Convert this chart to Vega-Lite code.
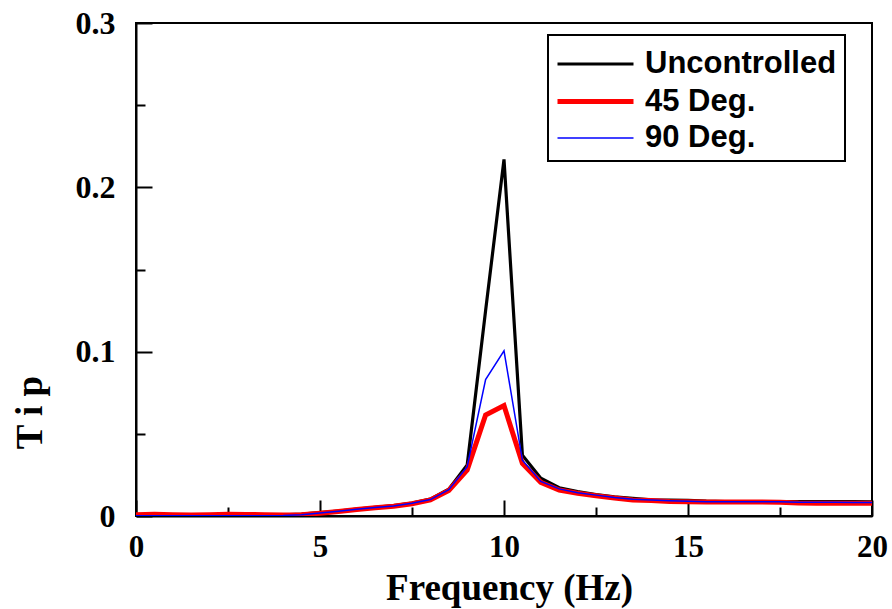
{
  "$schema": "https://vega.github.io/schema/vega-lite/v6.json",
  "width": 736,
  "height": 493,
  "autosize": {"type": "none"},
  "padding": {"left": 136, "top": 23, "right": 20, "bottom": 93},
  "background": "white",
  "config": {
    "view": {"stroke": "black", "strokeWidth": 2},
    "axis": {
      "domainColor": "black", "domainWidth": 2,
      "tickColor": "black", "tickWidth": 2,
      "grid": false,
      "labelFont": "Liberation Serif", "labelFontWeight": "bold", "labelFontSize": 31, "labelColor": "black",
      "titleFont": "Liberation Serif", "titleFontWeight": "bold", "titleFontSize": 37, "titleColor": "black"
    },
    "legend": {"strokeColor": "black", "fillColor": "white", "strokeWidth": 2}
  },
  "data": {"values": [
    {"f":0,"v":0.0005,"s":"Uncontrolled"},{"f":0.5,"v":0.0005,"s":"Uncontrolled"},{"f":1,"v":0.0004,"s":"Uncontrolled"},{"f":1.5,"v":0.0004,"s":"Uncontrolled"},{"f":2,"v":0.0005,"s":"Uncontrolled"},{"f":2.5,"v":0.0005,"s":"Uncontrolled"},{"f":3,"v":0.0005,"s":"Uncontrolled"},{"f":3.5,"v":0.0006,"s":"Uncontrolled"},{"f":4,"v":0.0007,"s":"Uncontrolled"},{"f":4.5,"v":0.0012,"s":"Uncontrolled"},{"f":5,"v":0.002,"s":"Uncontrolled"},{"f":5.5,"v":0.003,"s":"Uncontrolled"},{"f":6,"v":0.0042,"s":"Uncontrolled"},{"f":6.5,"v":0.0052,"s":"Uncontrolled"},{"f":7,"v":0.0063,"s":"Uncontrolled"},{"f":7.5,"v":0.0078,"s":"Uncontrolled"},{"f":8,"v":0.0103,"s":"Uncontrolled"},{"f":8.5,"v":0.0163,"s":"Uncontrolled"},{"f":9,"v":0.031,"s":"Uncontrolled"},{"f":9.5,"v":0.125,"s":"Uncontrolled"},{"f":10,"v":0.217,"s":"Uncontrolled"},{"f":10.5,"v":0.037,"s":"Uncontrolled"},{"f":11,"v":0.023,"s":"Uncontrolled"},{"f":11.5,"v":0.0172,"s":"Uncontrolled"},{"f":12,"v":0.0148,"s":"Uncontrolled"},{"f":12.5,"v":0.013,"s":"Uncontrolled"},{"f":13,"v":0.0117,"s":"Uncontrolled"},{"f":13.5,"v":0.0107,"s":"Uncontrolled"},{"f":14,"v":0.0099,"s":"Uncontrolled"},{"f":14.5,"v":0.0097,"s":"Uncontrolled"},{"f":15,"v":0.0095,"s":"Uncontrolled"},{"f":15.5,"v":0.009,"s":"Uncontrolled"},{"f":16,"v":0.0088,"s":"Uncontrolled"},{"f":16.5,"v":0.0087,"s":"Uncontrolled"},{"f":17,"v":0.0087,"s":"Uncontrolled"},{"f":17.5,"v":0.0087,"s":"Uncontrolled"},{"f":18,"v":0.0088,"s":"Uncontrolled"},{"f":18.5,"v":0.0088,"s":"Uncontrolled"},{"f":19,"v":0.0087,"s":"Uncontrolled"},{"f":19.5,"v":0.0087,"s":"Uncontrolled"},{"f":20,"v":0.0086,"s":"Uncontrolled"},
    {"f":0,"v":0.0007,"s":"45 Deg."},{"f":0.5,"v":0.001,"s":"45 Deg."},{"f":1,"v":0.0008,"s":"45 Deg."},{"f":1.5,"v":0.0006,"s":"45 Deg."},{"f":2,"v":0.0008,"s":"45 Deg."},{"f":2.5,"v":0.001,"s":"45 Deg."},{"f":3,"v":0.0009,"s":"45 Deg."},{"f":3.5,"v":0.0008,"s":"45 Deg."},{"f":4,"v":0.0006,"s":"45 Deg."},{"f":4.5,"v":0.0008,"s":"45 Deg."},{"f":5,"v":0.0017,"s":"45 Deg."},{"f":5.5,"v":0.0028,"s":"45 Deg."},{"f":6,"v":0.004,"s":"45 Deg."},{"f":6.5,"v":0.005,"s":"45 Deg."},{"f":7,"v":0.006,"s":"45 Deg."},{"f":7.5,"v":0.0075,"s":"45 Deg."},{"f":8,"v":0.0098,"s":"45 Deg."},{"f":8.5,"v":0.0155,"s":"45 Deg."},{"f":9,"v":0.028,"s":"45 Deg."},{"f":9.5,"v":0.0615,"s":"45 Deg."},{"f":10,"v":0.0672,"s":"45 Deg."},{"f":10.5,"v":0.032,"s":"45 Deg."},{"f":11,"v":0.0205,"s":"45 Deg."},{"f":11.5,"v":0.0158,"s":"45 Deg."},{"f":12,"v":0.0138,"s":"45 Deg."},{"f":12.5,"v":0.0123,"s":"45 Deg."},{"f":13,"v":0.011,"s":"45 Deg."},{"f":13.5,"v":0.0098,"s":"45 Deg."},{"f":14,"v":0.0094,"s":"45 Deg."},{"f":14.5,"v":0.0088,"s":"45 Deg."},{"f":15,"v":0.0086,"s":"45 Deg."},{"f":15.5,"v":0.0085,"s":"45 Deg."},{"f":16,"v":0.0085,"s":"45 Deg."},{"f":16.5,"v":0.0085,"s":"45 Deg."},{"f":17,"v":0.0085,"s":"45 Deg."},{"f":17.5,"v":0.0084,"s":"45 Deg."},{"f":18,"v":0.0079,"s":"45 Deg."},{"f":18.5,"v":0.0078,"s":"45 Deg."},{"f":19,"v":0.0078,"s":"45 Deg."},{"f":19.5,"v":0.0078,"s":"45 Deg."},{"f":20,"v":0.0078,"s":"45 Deg."},
    {"f":0,"v":0.0002,"s":"90 Deg."},{"f":0.5,"v":0.0002,"s":"90 Deg."},{"f":1,"v":0.0002,"s":"90 Deg."},{"f":1.5,"v":0.0002,"s":"90 Deg."},{"f":2,"v":0.0002,"s":"90 Deg."},{"f":2.5,"v":0.0002,"s":"90 Deg."},{"f":3,"v":0.0002,"s":"90 Deg."},{"f":3.5,"v":0.0002,"s":"90 Deg."},{"f":4,"v":0.0003,"s":"90 Deg."},{"f":4.5,"v":0.0008,"s":"90 Deg."},{"f":5,"v":0.0018,"s":"90 Deg."},{"f":5.5,"v":0.0029,"s":"90 Deg."},{"f":6,"v":0.0041,"s":"90 Deg."},{"f":6.5,"v":0.0051,"s":"90 Deg."},{"f":7,"v":0.0061,"s":"90 Deg."},{"f":7.5,"v":0.0077,"s":"90 Deg."},{"f":8,"v":0.01,"s":"90 Deg."},{"f":8.5,"v":0.016,"s":"90 Deg."},{"f":9,"v":0.03,"s":"90 Deg."},{"f":9.5,"v":0.083,"s":"90 Deg."},{"f":10,"v":0.1005,"s":"90 Deg."},{"f":10.5,"v":0.034,"s":"90 Deg."},{"f":11,"v":0.021,"s":"90 Deg."},{"f":11.5,"v":0.0165,"s":"90 Deg."},{"f":12,"v":0.0142,"s":"90 Deg."},{"f":12.5,"v":0.0127,"s":"90 Deg."},{"f":13,"v":0.0113,"s":"90 Deg."},{"f":13.5,"v":0.0102,"s":"90 Deg."},{"f":14,"v":0.0097,"s":"90 Deg."},{"f":14.5,"v":0.0093,"s":"90 Deg."},{"f":15,"v":0.009,"s":"90 Deg."},{"f":15.5,"v":0.0087,"s":"90 Deg."},{"f":16,"v":0.0087,"s":"90 Deg."},{"f":16.5,"v":0.0087,"s":"90 Deg."},{"f":17,"v":0.0087,"s":"90 Deg."},{"f":17.5,"v":0.0087,"s":"90 Deg."},{"f":18,"v":0.0084,"s":"90 Deg."},{"f":18.5,"v":0.0083,"s":"90 Deg."},{"f":19,"v":0.0083,"s":"90 Deg."},{"f":19.5,"v":0.0082,"s":"90 Deg."},{"f":20,"v":0.0082,"s":"90 Deg."}
  ]},
  "mark": {"type": "line", "clip": true},
  "encoding": {
    "x": {
      "field": "f", "type": "quantitative",
      "scale": {"domain": [0, 20], "nice": false, "zero": false},
      "axis": {
        "title": "Frequency (Hz)",
        "values": [0, 2.5, 5, 7.5, 10, 12.5, 15, 17.5, 20],
        "labelExpr": "datum.value % 5 === 0 ? format(datum.value, 'd') : ''",
        "tickSize": {"condition": {"test": "datum.value % 5 === 0", "value": -16}, "value": -9},
        "labelPadding": 32,
        "labelFlush": false,
        "labelOverlap": false,
        "titleX": 373, "titleY": 83, "titleAlign": "center", "titleBaseline": "alphabetic"
      }
    },
    "y": {
      "field": "v", "type": "quantitative",
      "scale": {"domain": [0, 0.3], "nice": false},
      "axis": {
        "title": "T i p",
        "values": [0, 0.05, 0.1, 0.15, 0.2, 0.25, 0.3],
        "labelExpr": "round(datum.value * 100) % 10 === 0 ? (datum.value === 0 ? '0' : format(datum.value, '.1f')) : ''",
        "tickSize": {"condition": {"test": "round(datum.value * 100) % 10 === 0", "value": -16}, "value": -9},
        "labelPadding": 37,
        "labelFontSize": 32,
        "labelFlush": false,
        "labelOverlap": false,
        "titleAngle": -90, "titleX": -106, "titleY": 389, "titleAlign": "center", "titleBaseline": "middle"
      }
    },
    "color": {
      "field": "s", "type": "nominal",
      "scale": {"domain": ["Uncontrolled", "45 Deg.", "90 Deg."], "range": ["#000000", "#ff0000", "#0000ff"]},
      "legend": {
        "title": null, "orient": "none", "legendX": 412, "legendY": 12,
        "symbolType": "M-2,0H2", "symbolSize": 1444, "symbolOffset": 18,
        "labelFont": "Liberation Sans", "labelFontWeight": "bold", "labelFontSize": 31, "labelColor": "black",
        "labelLimit": 400,
        "labelOffset": 28, "rowPadding": 1, "padding": 8
      }
    },
    "strokeWidth": {
      "field": "s", "type": "nominal",
      "scale": {"type": "ordinal", "domain": ["Uncontrolled", "45 Deg.", "90 Deg."], "range": [3.2, 5, 1.5]},
      "legend": {
        "title": null, "orient": "none", "legendX": 412, "legendY": 12,
        "symbolType": "M-2,0H2", "symbolSize": 1444, "symbolOffset": 18,
        "labelFont": "Liberation Sans", "labelFontWeight": "bold", "labelFontSize": 31, "labelColor": "black",
        "labelLimit": 400,
        "labelOffset": 28, "rowPadding": 1, "padding": 8
      }
    }
  }
}
